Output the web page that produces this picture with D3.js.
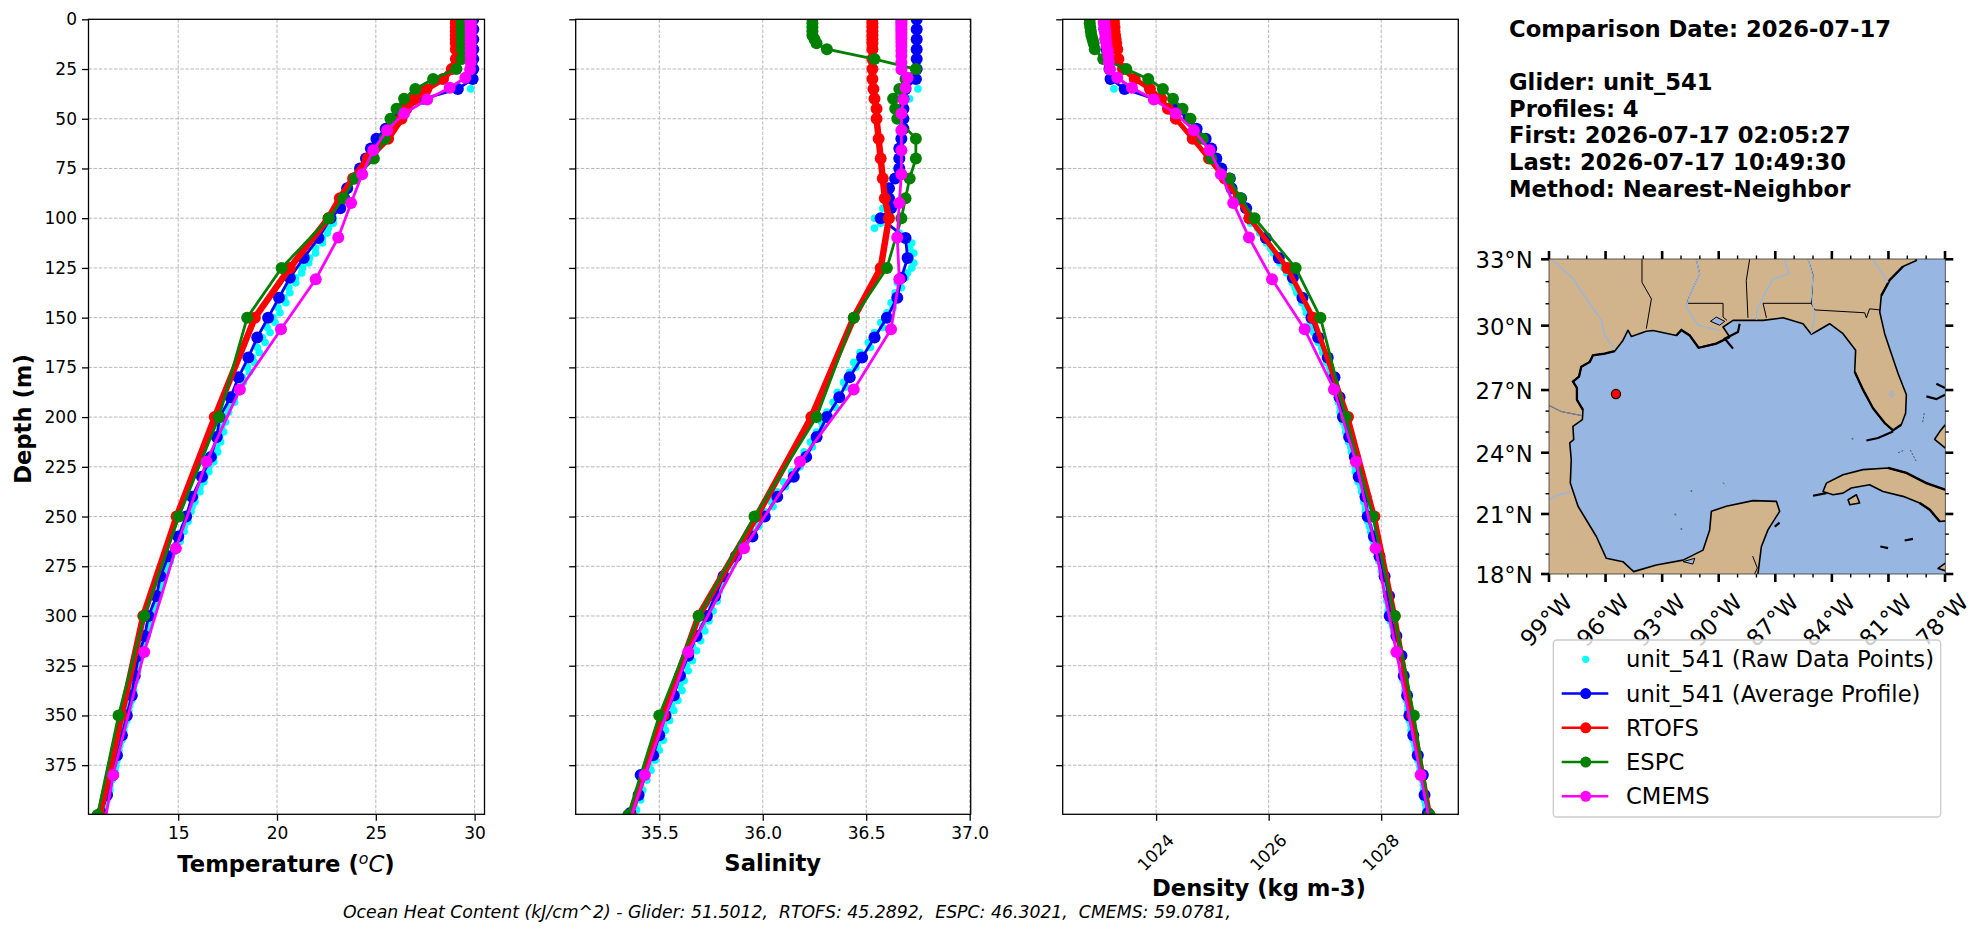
<!DOCTYPE html>
<html>
<head>
<meta charset="utf-8">
<script src="https://cdn.jsdelivr.net/npm/d3@7"></script>
<style>
  html, body { margin: 0; padding: 0; background: #fff; overflow: hidden; }
  svg { display: block; }
  text { font-family: "DejaVu Sans"; fill: #000; }
</style>
</head>
<body>
<div id="chart"></div>
<script>
// Depth levels (m)
var rawDepth = [0,5,10,15,20,25,30,35,40,45,
  50,55,60,65,70,75,80,85,90,95,
  100,105,110,115,120,125,130,135,140,145,
  150,155,160,165,170,175,180,185,190,195,
  200,205,210,215,220,225,230,235,240,245,
  250,255,260,265,270,275,280,285,290,295,
  300,305,310,315,320,325,330,335,340,345,
  350,355,360,365,370,375,380,385,390,395,399];
var rawDepth2 = [102.5,107.5,112.5,117.5,122.5,127.5,132.5,137.5,142.5,147.5,
  152.5,157.5,162.5,167.5,172.5,177.5,182.5,187.5,192.5,197.5,
  202.5,207.5,212.5,217.5,222.5,227.5,232.5,237.5,242.5,247.5,
  252.5,257.5,262.5,267.5,272.5,277.5,282.5,287.5,292.5,297.5,
  302.5,307.5,312.5,317.5,322.5,327.5,332.5,337.5,342.5,347.5,
  352.5,357.5,362.5,367.5,372.5,377.5,382.5,387.5,392.5,397.5];
var gliderDepth = [0,5,10,15,20,25,30,35,40,45,50,55,60,65,70,75,80,85,90,95,100,
  110,120,130,140,150,160,170,180,190,200,210,220,230,240,250,260,270,280,290,
  300,310,320,330,340,350,360,370,380,390,399];
var modelDepth = [0,2,4,6,8,10,12,15,20,25,30,35,40,45,50,60,70,80,90,100,125,150,200,250,300,350,400];
var cmemsDepth = [0.49,1.54,2.65,3.82,5.08,6.44,7.93,9.57,11.4,13.47,15.81,18.5,21.6,25.2,29.4,34.4,
  40.3,47.4,55.8,65.8,77.85,92.3,109.7,130.7,155.85,186.1,222.5,266,318.1,380,453];

// Temperature
var rawTemp = [29.95,29.95,29.95,29.95,29.95,29.95,29.9,29.8,27.5,26.6,
  25.9,25.6,25.15,24.85,24.55,24.25,23.95,23.65,23.45,23.2,
  22.85,22.6,22.3,21.95,21.65,21.3,20.95,20.6,20.35,20.05,
  19.8,19.5,19.25,19.0,18.75,18.5,18.25,18.0,17.85,17.55,
  17.3,17.2,17.1,16.95,16.8,16.55,16.35,16.1,15.85,15.7,
  15.5,15.3,15.1,14.85,14.65,14.45,14.25,14.1,14.0,13.8,
  13.6,13.5,13.35,13.2,13.05,12.95,12.85,12.75,12.65,12.55,
  12.4,12.3,12.15,12.05,11.95,11.85,11.7,11.55,11.45,11.3,11.15];
var rawTemp2 = [22.85,22.55,22.3,21.95,21.6,21.25,20.95,20.65,20.45,20.15,
  19.9,19.65,19.4,19.1,18.85,18.6,18.3,18.05,17.85,17.55,
  17.4,17.3,17.15,17.0,16.8,16.55,16.3,16.1,15.85,15.65,
  15.5,15.3,15.1,14.85,14.6,14.4,14.25,14.1,13.95,13.75,
  13.6,13.5,13.35,13.2,13.05,12.95,12.85,12.75,12.65,12.5,
  12.4,12.25,12.15,12.0,11.9,11.8,11.65,11.55,11.4,11.25];
var gliderTemp = [29.93,29.93,29.93,29.93,29.93,29.93,29.9,29.15,27.4,26.5,25.8,25.5,25.03,24.75,24.5,24.2,23.9,23.55,23.4,23.2,22.7,
  22.1,21.35,20.65,20.1,19.55,19.0,18.55,18.05,17.65,17.1,16.95,16.65,16.2,15.7,15.4,15.0,14.5,14.1,13.9,
  13.5,13.3,13.0,12.8,12.65,12.4,12.15,11.9,11.7,11.4,11.1];
var rtofsTemp = [29.05,29.05,29.05,29.05,29.05,29.05,29.05,29.05,29.05,28.85,28.4,27.56,26.97,26.55,26.3,25.62,24.6,23.85,23.18,22.6,20.65,18.88,16.85,14.92,13.23,12.13,11.03];
var espcTemp = [29.35,29.35,29.35,29.35,29.35,29.35,29.35,29.35,29.35,29.08,27.9,27.0,26.43,26.05,25.74,25.45,24.9,23.94,23.35,22.62,20.23,18.49,17.06,15.03,13.28,11.98,10.92];
var cmemsTemp = [29.8,29.8,29.8,29.8,29.8,29.8,29.8,29.8,29.8,29.8,29.8,29.8,29.8,29.77,29.53,28.74,
  27.6,26.43,25.57,24.87,24.31,23.75,23.1,21.96,20.2,18.12,16.43,14.88,13.28,11.71,10.4];

// Salinity
var rawSalt = [36.75,36.75,36.75,36.75,36.75,36.75,36.75,36.75,36.71,36.68,
  36.68,36.67,36.66,36.66,36.65,36.65,36.63,36.6,36.6,36.58,
  36.54,36.54,36.70,36.71,36.71,36.72,36.69,36.67,36.65,36.63,
  36.61,36.58,36.55,36.52,36.49,36.45,36.43,36.40,36.37,36.35,
  36.32,36.29,36.27,36.24,36.21,36.18,36.14,36.11,36.07,36.05,
  36.01,35.98,35.95,35.91,35.87,35.84,35.81,35.79,35.77,35.75,
  35.73,35.71,35.69,35.66,35.65,35.63,35.61,35.6,35.58,35.56,
  35.54,35.52,35.51,35.49,35.48,35.45,35.42,35.41,35.4,35.38,35.37];
var rawSalt2 = [36.57,36.66,36.72,36.73,36.73,36.7,36.65,36.64,36.62,36.6,
  36.57,36.54,36.51,36.47,36.44,36.42,36.39,36.36,36.34,36.31,
  36.285,36.26,36.23,36.2,36.17,36.14,36.1,36.07,36.04,36.01,
  35.985,35.95,35.92,35.89,35.85,35.82,35.8,35.79,35.78,35.76,
  35.74,35.72,35.7,35.68,35.66,35.64,35.62,35.61,35.59,35.57,
  35.55,35.53,35.52,35.5,35.48,35.46,35.44,35.42,35.41,35.39];
var gliderSalt = [36.744,36.744,36.744,36.744,36.744,36.744,36.74,36.69,36.68,36.68,36.68,36.68,36.67,36.66,36.66,36.66,36.64,36.61,36.61,36.62,36.57,
  36.69,36.70,36.67,36.65,36.6,36.54,36.48,36.42,36.37,36.31,36.26,36.21,36.15,36.07,36.01,35.95,35.87,35.81,35.77,
  35.73,35.68,35.64,35.60,35.57,35.53,35.50,35.47,35.41,35.40,35.36];
var rtofsSalt = [36.53,36.53,36.53,36.53,36.53,36.53,36.53,36.53,36.53,36.53,36.53,36.535,36.54,36.55,36.55,36.56,36.57,36.58,36.59,36.61,36.57,36.44,36.235,35.97,35.69,35.52,35.36];
var espcSalt = [36.24,36.24,36.24,36.24,36.24,36.25,36.26,36.31,36.54,36.74,36.69,36.66,36.63,36.64,36.65,36.74,36.74,36.71,36.69,36.67,36.6,36.44,36.26,35.96,35.69,35.5,35.35];
var cmemsSalt = [36.67,36.67,36.67,36.67,36.67,36.67,36.67,36.67,36.67,36.67,36.67,36.67,36.67,36.67,36.70,36.69,
  36.68,36.67,36.67,36.67,36.67,36.66,36.65,36.66,36.62,36.44,36.18,35.91,35.64,35.43,35.2];

// Density
var rawDens = [1023.07,1023.08,1023.1,1023.12,1023.14,1023.17,1023.2,1023.25,1023.95,1024.37,
  1024.58,1024.73,1024.88,1024.98,1025.07,1025.16,1025.29,1025.33,1025.49,1025.56,
  1025.63,1025.8,1025.92,1026.03,1026.15,1026.27,1026.4,1026.47,1026.57,1026.65,
  1026.73,1026.79,1026.85,1026.94,1027.02,1027.08,1027.15,1027.2,1027.24,1027.27,
  1027.3,1027.36,1027.41,1027.46,1027.51,1027.54,1027.58,1027.64,1027.7,1027.72,
  1027.74,1027.79,1027.85,1027.9,1027.95,1028.0,1028.04,1028.08,1028.12,1028.13,
  1028.14,1028.2,1028.26,1028.3,1028.34,1028.37,1028.39,1028.42,1028.45,1028.47,
  1028.49,1028.53,1028.56,1028.6,1028.64,1028.68,1028.73,1028.75,1028.76,1028.79,1028.82];
var rawDens2 = [1025.68,1025.84,1025.96,1026.08,1026.2,1026.32,1026.42,1026.5,1026.59,1026.67,
  1026.74,1026.8,1026.88,1026.96,1027.03,1027.1,1027.16,1027.2,1027.24,1027.27,
  1027.32,1027.37,1027.42,1027.47,1027.51,1027.54,1027.59,1027.65,1027.69,1027.72,
  1027.76,1027.81,1027.86,1027.91,1027.96,1028.0,1028.05,1028.08,1028.1,1028.12,
  1028.16,1028.22,1028.27,1028.31,1028.34,1028.37,1028.39,1028.42,1028.45,1028.47,
  1028.5,1028.53,1028.57,1028.61,1028.65,1028.69,1028.73,1028.75,1028.77,1028.8];
var gliderDens = [1023.07,1023.08,1023.1,1023.12,1023.14,1023.17,1023.19,1023.44,1023.97,1024.36,1024.57,1024.72,1024.88,1024.98,1025.07,1025.16,1025.31,1025.34,1025.51,1025.6,1025.66,
  1025.95,1026.18,1026.43,1026.6,1026.76,1026.88,1027.05,1027.17,1027.26,1027.32,1027.43,1027.53,1027.6,1027.72,1027.76,1027.87,1027.97,1028.06,1028.14,
  1028.15,1028.27,1028.36,1028.4,1028.46,1028.5,1028.57,1028.65,1028.74,1028.77,1028.83];
var rtofsDens = [1023.25,1023.25,1023.26,1023.26,1023.27,1023.28,1023.29,1023.31,1023.33,1023.41,1023.62,1023.89,1024.09,1024.21,1024.35,1024.65,1024.94,1025.22,1025.46,1025.66,1026.33,1026.79,1027.41,1027.88,1028.24,1028.55,1028.86];
var espcDens = [1022.82,1022.82,1022.83,1022.84,1022.85,1022.87,1022.89,1022.91,1023.06,1023.47,1023.86,1024.12,1024.3,1024.47,1024.61,1024.83,1024.98,1025.3,1025.5,1025.75,1026.48,1026.92,1027.37,1027.85,1028.24,1028.58,1028.86];
var cmemsDens = [1023.07,1023.07,1023.08,1023.08,1023.09,1023.09,1023.1,1023.1,1023.11,1023.12,1023.14,1023.15,1023.16,1023.18,1023.31,1023.57,
  1023.96,1024.35,1024.67,1024.95,1025.15,1025.37,1025.65,1026.06,1026.64,1027.16,1027.55,1027.9,1028.27,1028.7,1029.2];

// Ticks
var depthTicks = [0,25,50,75,100,125,150,175,200,225,250,275,300,325,350,375];
var tempTicks = [15,20,25,30];
var saltTicks = [35.5,36,36.5,37];
var densTicks = [1024,1026,1028];
var lonTicks = [-99,-96,-93,-90,-87,-84,-81,-78];
var latTicks = [18,21,24,27,30,33];
var lonMinor = [-98,-97,-95,-94,-92,-91,-89,-88,-86,-85,-83,-82,-80,-79];
var latMinor = [19,20,22,23,25,26,28,29,31,32];

// Text
var infoLines = ["Comparison Date: 2026-07-17", "", "Glider: unit_541", "Profiles: 4",
  "First: 2026-07-17 02:05:27", "Last: 2026-07-17 10:49:30", "Method: Nearest-Neighbor"];
var ohcText = "Ocean Heat Content (kJ/cm^2) - Glider: 51.5012,  RTOFS: 45.2892,  ESPC: 46.3021,  CMEMS: 59.0781,";
var legendNames = ["unit_541 (Raw Data Points)", "unit_541 (Average Profile)", "RTOFS", "ESPC", "CMEMS"];
var legendColors = ["cyan", "blue", "red", "green", "magenta"];

// Map outlines as [lon, lat]
var gliderPos = [-95.45, 26.81];
var mainland = [[-79.52,32.95],[-79.7,33.4],[-79,34],[-100,34],[-100,17.5],[-87.92,17.5],[-87.92,18.0],
  [-87.74,19.37],[-87.39,20.21],[-86.77,21.13],[-86.94,21.62],[-88.18,21.66],[-89.6,21.38],[-90.39,21.13],[-90.48,20.21],
  [-90.83,19.2],[-91.89,18.7],[-93.31,18.45],[-94.51,18.12],[-95.08,18.62],[-95.96,18.79],[-96.49,19.88],[-97.46,21.38],
  [-97.87,22.52],[-97.82,23.67],[-97.9,24.48],[-97.69,24.63],[-97.73,25.27],[-97.23,25.59],[-97.2,26.06],[-97.52,26.54],
  [-97.52,27.1],[-97.73,27.4],[-97.41,27.63],[-97.29,28.09],[-96.84,28.32],[-96.67,28.63],[-96.05,28.71],[-95.52,28.82],
  [-95.08,29.32],[-94.81,29.79],[-94.63,29.5],[-93.84,29.74],[-93.48,29.78],[-92.25,29.55],[-91.98,29.8],[-91.54,29.55],
  [-91.07,28.98],[-90.13,29.17],[-89.42,29.48],
  [-89.77,29.94],[-89.24,30.24],[-88.71,30.24],[-87.65,30.24],[-86.59,30.36],[-85.53,30.09],[-85.09,29.6],[-84.73,29.78],
  [-84.12,30.09],[-83.41,29.63],[-82.74,28.86],[-82.79,27.86],[-82.35,27.02],[-81.82,26.14],[-81.2,25.43],[-80.76,25.08],
  [-80.32,25.35],[-80.09,25.9],[-80.05,26.78],[-80.49,27.78],[-80.85,28.71],[-81.2,29.63],[-81.46,30.62],[-81.38,31.37],
  [-80.93,32.08],[-80.23,32.68]];
var cuba = [[-84.47,22.11],[-84.29,22.52],[-83.41,22.93],[-82.35,23.18],[-81.02,23.26],[-80.05,23.02],[-78.99,22.52],[-78,22.2],
  [-77.5,22.0],[-77.5,20.7],[-78.28,20.63],[-78.81,21.21],[-79.34,21.54],[-80.23,21.87],[-81.29,22.11],[-82,22.44],
  [-82.97,22.28],[-83.41,22.03],[-83.94,21.95]];
var isleOfYouth = [[-83.14,21.7],[-82.7,21.95],[-82.53,21.54],[-83.05,21.46]];
var andros = [[-78,25.33],[-78.28,25.02],[-78.55,24.65],[-78,24.24],[-77.6,24.8]];
var jamaica = [[-78.37,18.28],[-78,18.54],[-77.8,18.54],[-77.8,18.17],[-78,18.17]];
var lakes = [[[-90.44,30.2],[-90.13,30.39],[-89.68,30.2],[-89.95,30.02]],
  [[-91.89,18.62],[-91.27,18.79],[-91.37,18.5]]];
var okeechobee = [[-81.02,26.81],[-80.85,27.02],[-80.62,26.81],[-80.82,26.57]];
var rivers = [
  [[-98.79,32.95],[-97.73,32.13],[-96.84,31.0],[-96.22,30.24],[-96.05,29.55],[-95.52,28.94]],
  [[-99,21.7],[-98.61,21.9],[-97.87,22.11]],
  [[-91.19,33],[-91.01,32.35],[-91.54,31.37],[-91.72,30.84],[-91.1,30.02],[-89.95,29.78]],
  [[-86.5,33],[-86.29,32.35],[-87.12,32.13],[-87.56,31.45],[-88,30.62],[-88,30.27]],
  [[-85.26,33],[-85,32.2],[-85.09,31.45],[-84.91,30.4],[-85.09,29.63]],
  [[-81.82,33],[-81.02,31.97]],
  [[-99,26.27],[-98.35,25.98],[-97.29,25.79]]
];
var borders = [
  [[-94.07,33],[-94.07,31.97],[-93.57,31.22],[-93.84,29.86]],
  [[-91.19,33],[-91.01,32.35],[-91.54,31.37],[-91.68,31.02],[-89.77,31.02],[-89.77,30.39],[-89.56,30.24]],
  [[-88.36,33],[-88.54,32.05],[-88.45,30.36]],
  [[-87.47,30.36],[-87.65,31.02],[-85.09,31.02],[-84.91,30.72],[-82.26,30.59],[-82.17,30.36],[-82,30.77],[-81.46,30.72]],
  [[-85.26,33],[-85,32.28],[-85.09,31.02]],
  [[-99,26.27],[-98.35,25.98],[-97.29,25.79]],
  [[-88.2,18.9],[-87.95,18.3],[-88.1,18.0]]
];
var roughCoast = [
  [[-95.52,28.82],[-96.05,28.71],[-96.67,28.63],[-96.84,28.32],[-97.29,28.09],[-97.41,27.63],[-97.73,27.4],[-97.52,27.1],[-97.52,26.54],[-97.2,26.06]],
  [[-92.25,29.55],[-91.98,29.8],[-91.54,29.55],[-91.07,28.98],[-90.13,29.17],[-89.42,29.48]],
  [[-82.79,27.86],[-82.35,27.02],[-81.82,26.14],[-81.2,25.43],[-80.76,25.08],[-80.32,25.35]],
  [[-81.38,31.37],[-80.93,32.08],[-80.23,32.68]],
  [[-81.02,23.26],[-80.05,23.02],[-78.99,22.52],[-78,22.2]],
  [[-78.28,20.63],[-78.81,21.21],[-79.34,21.54]]
];
var islandLines = [
  [[-85,21.9],[-84.29,22.03]],
  [[-78.99,26.7],[-78.46,26.57],[-78,26.78]],
  [[-78.46,27.3],[-78,27.1]],
  [[-82.17,24.59],[-81.55,24.71],[-80.76,25.03]],
  [[-81.43,19.38],[-81.02,19.3]],
  [[-80.14,19.68],[-79.7,19.76]],
  [[-87.03,20.37],[-86.77,20.57]],
  [[-88.89,30.09],[-88.98,29.71],[-89.68,29.4],[-89.24,28.94]]
];
var reefLines = [
  [[-80.49,24.0],[-80.14,24.13]],
  [[-79.84,24.13],[-79.52,23.57]],
  [[-79.1,25.9],[-79.2,25.4]],
  [[-89.77,22.55],[-89.65,22.4]]
];
var reefDots = [[-91.45,22.13],[-92.3,20.97],[-91.98,20.25],[-82.91,24.67]];

// Set SVG Specs
var svgWidth = 1987;
var svgHeight = 934;
var top_ = 19.3;
var bottom_ = 814.3;

var svg = d3.select("#chart")
  .append("svg")
  .attr("width", svgWidth)
  .attr("height", svgHeight);

var yScale = d3.scaleLinear()
  .domain([0, 399.7])
  .range([top_, bottom_]);

function lineOf(x, depths, values) {
  return d3.line()
    .x((d, i) => x(values[i]))
    .y(d => yScale(d))(depths);
}

// One profile panel
function drawPanel(id, left, right, domain, ticks, series, showDepth, rotate) {
  var x = d3.scaleLinear().domain(domain).range([left, right]);
  var g = svg.append("g");

  g.append("clipPath").attr("id", "clip" + id)
    .append("rect")
    .attr("x", left).attr("y", top_)
    .attr("width", right - left).attr("height", bottom_ - top_);

  // Grid
  var gridColor = "#b0b0b0";
  g.selectAll(".hgrid").data(depthTicks.slice(1)).enter().append("line")
    .attr("x1", left).attr("x2", right)
    .attr("y1", d => yScale(d)).attr("y2", d => yScale(d))
    .attr("stroke", gridColor).attr("stroke-width", 0.9).attr("stroke-dasharray", "3.5,1.6");
  g.selectAll(".vgrid").data(ticks).enter().append("line")
    .attr("x1", d => x(d)).attr("x2", d => x(d))
    .attr("y1", top_).attr("y2", bottom_)
    .attr("stroke", gridColor).attr("stroke-width", 0.9).attr("stroke-dasharray", "3.5,1.6");

  // Data, raw points first
  var plot = g.append("g").attr("clip-path", "url(#clip" + id + ")");
  series.forEach(function(s) {
    if (s.lw > 0) {
      plot.append("path")
        .attr("d", lineOf(x, s.depth, s.values))
        .attr("fill", "none")
        .attr("stroke", s.color)
        .attr("stroke-width", s.lw)
        .attr("stroke-linejoin", "round");
    }
    plot.selectAll(null).data(s.depth).enter().append("circle")
      .attr("cx", (d, i) => x(s.values[i]))
      .attr("cy", d => yScale(d))
      .attr("r", s.r)
      .attr("fill", s.color);
  });

  // Frame
  g.append("rect")
    .attr("x", left).attr("y", top_)
    .attr("width", right - left).attr("height", bottom_ - top_)
    .attr("fill", "none").attr("stroke", "#000").attr("stroke-width", 1.3);

  // Axes
  var yAxis = d3.axisLeft(yScale).tickValues(depthTicks).tickSize(6.5).tickPadding(5);
  if (!showDepth) yAxis.tickFormat("");
  var yg = g.append("g").attr("transform", "translate(" + left + ",0)").call(yAxis);
  yg.select(".domain").remove();
  yg.selectAll("line").attr("stroke-width", 1.3);
  yg.selectAll("text").attr("font-size", 17).attr("font-family", "DejaVu Sans");

  var xAxis = d3.axisBottom(x).tickValues(ticks).tickSize(6.5).tickPadding(6)
    .tickFormat(d => rotate ? d : (id == "salt" ? d3.format(".1f")(d) : d));
  var xg = g.append("g").attr("transform", "translate(0," + bottom_ + ")").call(xAxis);
  xg.select(".domain").remove();
  xg.selectAll("line").attr("stroke-width", 1.3);
  xg.selectAll("text").attr("font-size", 17).attr("font-family", "DejaVu Sans");
  if (rotate) {
    xg.selectAll("text")
      .attr("text-anchor", "middle").attr("dy", "0.36em")
      .attr("y", 0)
      .attr("transform", "translate(-1,38) rotate(-45)");
  }
}

function seriesFor(raw, raw2, glider, rtofs, espc, cmems, rtofsWidth) {
  return [
    { depth: rawDepth, values: raw, color: "cyan", lw: 0, r: 3.8 },
    { depth: rawDepth2, values: raw2, color: "cyan", lw: 0, r: 3.8 },
    { depth: gliderDepth, values: glider, color: "blue", lw: 2.8, r: 6 },
    { depth: modelDepth, values: rtofs, color: "red", lw: rtofsWidth, r: 6 },
    { depth: modelDepth, values: espc, color: "green", lw: 2.8, r: 6 },
    { depth: cmemsDepth, values: cmems, color: "magenta", lw: 2.8, r: 6 }
  ];
}

drawPanel("temp", 88.5, 484.5, [10.46, 30.5], tempTicks, seriesFor(rawTemp, rawTemp2, gliderTemp, rtofsTemp, espcTemp, cmemsTemp, 6.5), true, false);
drawPanel("salt", 575.7, 970.7, [35.096, 37.005], saltTicks, seriesFor(rawSalt, rawSalt2, gliderSalt, rtofsSalt, espcSalt, cmemsSalt, 6.5), false, false);
drawPanel("dens", 1062.7, 1458.3, [1022.34, 1029.37], densTicks, seriesFor(rawDens, rawDens2, gliderDens, rtofsDens, espcDens, cmemsDens, 5), false, true);

// Axis labels
var labelSize = 22.7;
var tempLabel = svg.append("text")
  .attr("x", 286).attr("y", 871.5)
  .attr("text-anchor", "middle")
  .attr("font-size", labelSize).attr("font-weight", "bold");
tempLabel.append("tspan").text("Temperature (");
tempLabel.append("tspan").attr("font-style", "italic").attr("font-weight", "normal").attr("font-size", 15.8).attr("dy", -8).text("o");
tempLabel.append("tspan").attr("font-style", "italic").attr("font-weight", "normal").attr("dy", 8).text("C");
tempLabel.append("tspan").text(")");

svg.append("text").attr("x", 772.7).attr("y", 871)
  .attr("text-anchor", "middle").attr("font-size", labelSize).attr("font-weight", "bold").text("Salinity");
svg.append("text").attr("x", 1259).attr("y", 896)
  .attr("text-anchor", "middle").attr("font-size", labelSize).attr("font-weight", "bold").text("Density (kg m-3)");
svg.append("text").attr("transform", "translate(30.5,419) rotate(-90)")
  .attr("text-anchor", "middle").attr("font-size", labelSize).attr("font-weight", "bold").text("Depth (m)");

svg.append("text").attr("x", 343).attr("y", 917.5)
  .attr("xml:space", "preserve").style("white-space", "pre")
  .attr("font-size", 17.3).attr("font-style", "italic").text(ohcText);

// Info block
svg.selectAll(".info").data(infoLines).enter().append("text")
  .attr("x", 1509)
  .attr("y", (d, i) => 37 + i * 26.6)
  .attr("font-size", labelSize).attr("font-weight", "bold")
  .text(d => d);

// Map
var mapLeft = 1549, mapRight = 1945.3, mapTop = 259, mapBottom = 574;
var projection = d3.geoMercator().scale(1080.5).translate([0, 0]);
var origin = projection([-99, 18]);
projection.translate([mapLeft - origin[0], mapBottom - origin[1]]);

var mapLine = d3.line().x(d => projection(d)[0]).y(d => projection(d)[1]);
var oceanColor = "#97b6e1", landColor = "#d2b48c";

svg.append("clipPath").attr("id", "clipMap").append("rect")
  .attr("x", mapLeft).attr("y", mapTop)
  .attr("width", mapRight - mapLeft).attr("height", mapBottom - mapTop);

var mapG = svg.append("g").attr("clip-path", "url(#clipMap)");
mapG.append("rect")
  .attr("x", mapLeft).attr("y", mapTop)
  .attr("width", mapRight - mapLeft).attr("height", mapBottom - mapTop)
  .attr("fill", oceanColor);

[mainland, cuba, isleOfYouth, andros, jamaica].forEach(function(shape) {
  mapG.append("path").attr("d", mapLine(shape) + "Z")
    .attr("fill", landColor).attr("stroke", "#000").attr("stroke-width", 1.6).attr("stroke-linejoin", "round");
});
roughCoast.forEach(function(shape) {
  mapG.append("path").attr("d", mapLine(shape)).attr("fill", "none").attr("stroke", "#000").attr("stroke-width", 2.3);
});
lakes.forEach(function(shape) {
  mapG.append("path").attr("d", mapLine(shape) + "Z")
    .attr("fill", oceanColor).attr("stroke", "#000").attr("stroke-width", 1);
});
mapG.append("path").attr("d", mapLine(okeechobee) + "Z").attr("fill", "#b2b2b2");
borders.forEach(function(shape) {
  mapG.append("path").attr("d", mapLine(shape)).attr("fill", "none").attr("stroke", "#000").attr("stroke-width", 1);
});
rivers.forEach(function(shape, i) {
  mapG.append("path").attr("d", mapLine(shape)).attr("fill", "none").attr("stroke", oceanColor).attr("stroke-width", i == 6 ? 0.8 : 1.4);
});
islandLines.forEach(function(shape) {
  mapG.append("path").attr("d", mapLine(shape)).attr("fill", "none").attr("stroke", "#000").attr("stroke-width", 2.2);
});
reefLines.forEach(function(shape) {
  mapG.append("path").attr("d", mapLine(shape)).attr("fill", "none").attr("stroke", "#555").attr("stroke-width", 1).attr("stroke-dasharray", "2,1.5");
});
mapG.selectAll(".reef").data(reefDots).enter().append("circle")
  .attr("cx", d => projection(d)[0]).attr("cy", d => projection(d)[1])
  .attr("r", 1).attr("fill", "#666");

mapG.append("circle")
  .attr("cx", projection(gliderPos)[0]).attr("cy", projection(gliderPos)[1])
  .attr("r", 4.6).attr("fill", "red").attr("stroke", "#000").attr("stroke-width", 1.2);

svg.append("rect")
  .attr("x", mapLeft).attr("y", mapTop)
  .attr("width", mapRight - mapLeft).attr("height", mapBottom - mapTop)
  .attr("fill", "none").attr("stroke", "#333").attr("stroke-width", 0.8);

// Map ticks on all four sides
var tickG = svg.append("g").attr("stroke", "#000");
function xTicks(list, len, w) {
  [[mapTop, -1], [mapBottom, 1]].forEach(function(side) {
    tickG.selectAll(null).data(list).enter().append("line")
      .attr("x1", d => projection([d, 25])[0]).attr("x2", d => projection([d, 25])[0])
      .attr("y1", side[0]).attr("y2", side[0] + side[1] * len)
      .attr("stroke-width", w);
  });
}
function yTicks(list, len, w) {
  [[mapLeft, -1], [mapRight, 1]].forEach(function(side) {
    tickG.selectAll(null).data(list).enter().append("line")
      .attr("y1", d => projection([-90, d])[1]).attr("y2", d => projection([-90, d])[1])
      .attr("x1", side[0]).attr("x2", side[0] + side[1] * len)
      .attr("stroke-width", w);
  });
}
xTicks(lonTicks, 8, 2.6);
yTicks(latTicks, 8, 2.6);
xTicks(lonMinor, 3.5, 1.4);
yTicks(latMinor, 3.5, 1.4);

svg.selectAll(".latLabel").data(latTicks).enter().append("text")
  .attr("x", 1532.7)
  .attr("y", d => projection([-90, d])[1] + 1)
  .attr("dy", "0.36em")
  .attr("text-anchor", "end")
  .attr("font-size", labelSize)
  .text(d => d + "°N");
svg.selectAll(".lonLabel").data(lonTicks).enter().append("text")
  .attr("transform", d => "translate(" + (projection([d, 25])[0] - 3) + ",620) rotate(-45)")
  .attr("dy", "0.36em")
  .attr("text-anchor", "middle")
  .attr("font-size", labelSize)
  .text(d => Math.abs(d) + "°W");

// Legend
var legendG = svg.append("g");
legendG.append("rect")
  .attr("x", 1553.3).attr("y", 640)
  .attr("width", 387.4).attr("height", 177)
  .attr("rx", 3.5)
  .attr("fill", "#fff").attr("fill-opacity", 0.8)
  .attr("stroke", "#ccc").attr("stroke-width", 1.3);

var legendY = d3.scalePoint().domain(legendNames).range([659.3, 796.3]);
legendNames.forEach(function(name, i) {
  var y = legendY(name);
  if (i > 0) {
    legendG.append("line")
      .attr("x1", 1561.7).attr("x2", 1608.3).attr("y1", y).attr("y2", y)
      .attr("stroke", legendColors[i]).attr("stroke-width", 2.5);
  }
  legendG.append("circle").attr("cx", 1585.7).attr("cy", y)
    .attr("r", i == 0 ? 3.6 : 5.5).attr("fill", legendColors[i]);
  legendG.append("text").attr("x", 1626).attr("y", y).attr("dy", "0.36em")
    .attr("font-size", labelSize).text(name);
});
</script>
</body>
</html>
